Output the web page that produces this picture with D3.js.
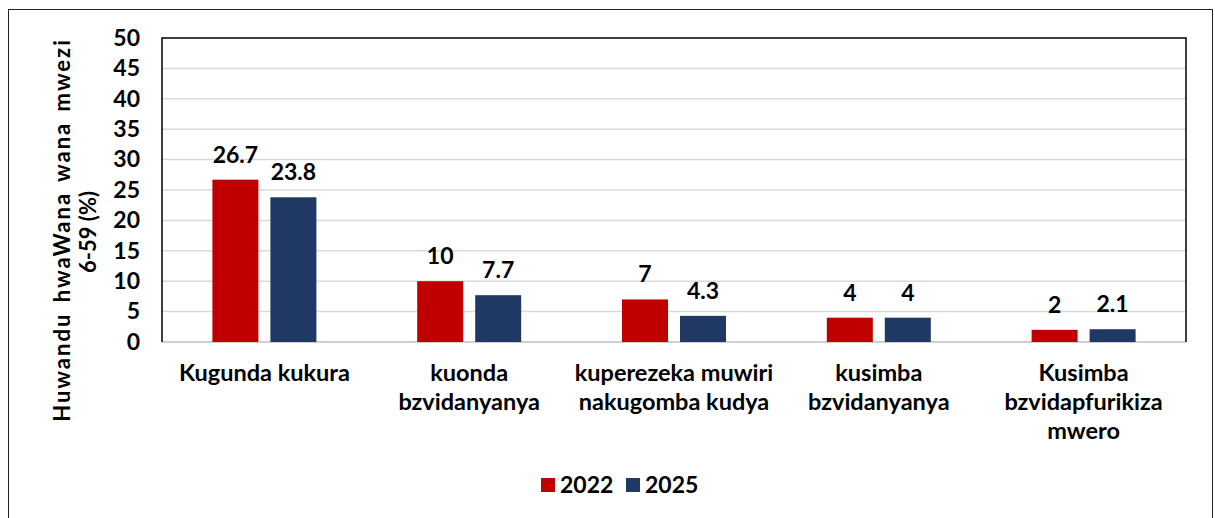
<!DOCTYPE html>
<html><head><meta charset="utf-8">
<script src="https://cdn.jsdelivr.net/npm/d3@7"></script>
<style>body{margin:0;background:#fff}text{font-family:Lato,"Liberation Sans",sans-serif;font-weight:bold;fill:#000}</style>
</head><body><svg id="c" width="1215" height="518"></svg>
<script>
const categories = [["Kugunda kukura"],["kuonda","bzvidanyanya"],["kuperezeka muwiri","nakugomba kudya"],["kusimba","bzvidanyanya"],["Kusimba","bzvidapfurikiza","mwero"]];
const series = ["2022","2025"];
const values2022 = [26.7,10,7,4,2];
const values2025 = [23.8,7.7,4.3,4,2.1];
const yTicks = [0,5,10,15,20,25,30,35,40,45,50];
const colors = ["#c00000","#203864"];

const svg = d3.select("#c");
svg.append("rect").attr("x",8.5).attr("y",9.5).attr("width",1204).attr("height",520).attr("fill","none").attr("stroke","#222").attr("stroke-width",1);
const L=162,R=1186,T=38,B=342;
const x = d3.scaleBand().domain(d3.range(categories.length)).range([L,R]);
const y = d3.scaleLinear().domain([0,50]).range([B,T]);
const g = svg.append("g");
g.selectAll("line.grid").data(yTicks.filter(d=>d>0&&d<50)).join("line")
 .attr("x1",L).attr("x2",R).attr("y1",d=>y(d)).attr("y2",d=>y(d)).attr("stroke","#d9d9d9").attr("stroke-width",1.5);
g.append("line").attr("x1",L).attr("x2",R).attr("y1",B).attr("y2",B).attr("stroke","#bfbfbf").attr("stroke-width",1.5);
g.append("path").attr("d",`M${L},${B}V${T}H${R}V${B}`).attr("fill","none").attr("stroke","#000").attr("stroke-width",1.5);
const yAxis = d3.axisLeft(y).tickValues(yTicks).tickSize(0).tickPadding(22);
const ya = svg.append("g").attr("transform",`translate(${L},0)`).call(yAxis);
ya.select(".domain").remove();
ya.selectAll("text").style("font-size","23px").style("font-family","Lato,'Liberation Sans',sans-serif").attr("fill","#000");

const data = [values2022, values2025];
const bw=46, gap=12;
data.forEach((vals,si)=>{
  const off = si===0 ? -(gap/2+bw) : gap/2;
  g.selectAll(null).data(vals).join("rect")
   .attr("x",(d,i)=>x(i)+x.bandwidth()/2+off).attr("width",bw)
   .attr("y",d=>y(d)).attr("height",d=>B-y(d)).attr("fill",colors[si]);
  g.selectAll(null).data(vals).join("text")
   .attr("x",(d,i)=>x(i)+x.bandwidth()/2+off+bw/2).attr("y",d=>y(d)-17)
   .attr("text-anchor","middle").style("font-size","23px").text(d=>d);
});
categories.forEach((lines,i)=>{
  const t = svg.append("text").attr("text-anchor","middle").style("font-size","23.5px")
   .attr("x",x(i)+x.bandwidth()/2).attr("y",381);
  lines.forEach((l,j)=>t.append("tspan").attr("x",x(i)+x.bandwidth()/2).attr("dy",j?29:0).text(l));
});
const yt = svg.append("text").attr("transform","translate(70,0) rotate(-90)").attr("text-anchor","middle").style("font-size","22px");
yt.append("tspan").attr("x",-230).attr("y",0).style("letter-spacing","2px").style("word-spacing","3px").text("Huwandu hwaWana wana mwezi");
yt.append("tspan").attr("x",-232).attr("y",26).text("6-59 (%)");
const lg = svg.append("g");
const lx=[541,626];
series.forEach((s,i)=>{
  lg.append("rect").attr("x",lx[i]).attr("y",478).attr("width",14).attr("height",14).attr("fill",colors[i]);
  lg.append("text").attr("x",lx[i]+19).attr("y",493).style("font-size","23px").text(s);
});
</script></body></html>
